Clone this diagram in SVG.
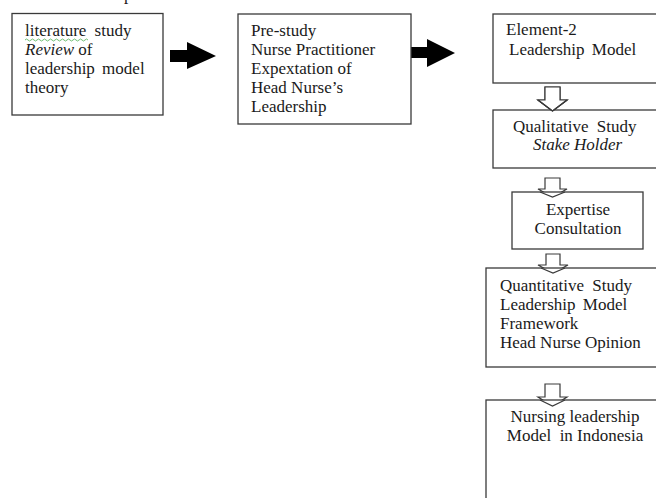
<svg xmlns="http://www.w3.org/2000/svg" width="656" height="498" viewBox="0 0 656 498">
<style>
  .box { fill: #ffffff; stroke: #3a3a3a; stroke-width: 1.3; }
  .t { font-family: "Liberation Serif", "Times New Roman", serif; font-size: 17px; fill: #1a1a1a; }
  .c { text-anchor: middle; }
  .i { font-style: italic; }
  .solid { fill: #000000; stroke: none; }
  .hollow { fill: #ffffff; stroke: #3a3a3a; stroke-width: 1.2; stroke-linejoin: miter; }
</style>
<rect x="0" y="0" width="656" height="498" fill="#ffffff"/>
<text class="t" x="124" y="0">p</text>

<g id="connectors">
  <polygon class="solid" points="170,50 187,50 187,42 216,56 187,69 187,62 170,62"/>
  <polygon class="solid" points="411,47 427,47 427,39 455,53 427,67 427,58 411,58"/>
</g>

<g id="node-literature">
  <rect class="box" x="12" y="13.5" width="151" height="101.5"/>
  <text class="t" x="25" y="36" word-spacing="4">literature study</text>
  <path d="M25,40 q1.5,-2 3,0 t3,0 t3,0 t3,0 t3,0 t3,0 t3,0 t3,0 t3,0 t3,0 t3,0 t3,0 t3,0 t3,0 t3,0 t3,0 t3,0 t3,0 t3,0 t3,0 t3,0" fill="none" stroke="#4caf50" stroke-width="0.8"/>
  <text class="t" x="25" y="55"><tspan class="i">Review</tspan> of</text>
  <text class="t" x="25" y="74" word-spacing="3">leadership model</text>
  <text class="t" x="25" y="93">theory</text>
</g>

<g id="node-prestudy">
  <rect class="box" x="238" y="14" width="173" height="110"/>
  <text class="t" x="251" y="36">Pre-study</text>
  <text class="t" x="251" y="55">Nurse Practitioner</text>
  <text class="t" x="251" y="74">Expextation of</text>
  <text class="t" x="251" y="93">Head Nurse’s</text>
  <text class="t" x="251" y="112">Leadership</text>
</g>

<g id="node-element2">
  <rect class="box" x="493" y="14" width="170" height="69"/>
  <text class="t" x="506" y="35">Element-2</text>
  <text class="t" x="509" y="55" word-spacing="3">Leadership Model</text>
</g>

<g id="arrow-1">
  <polygon class="hollow" points="545,87 560,87 560,100 567,100 552.5,111 538,100 545,100"/>
</g>

<g id="node-qualitative">
  <rect class="box" x="493" y="110" width="170" height="58"/>
  <polygon class="hollow" points="545,87 560,87 560,100 567,100 552.5,111 538,100 545,100" stroke="none"/>
  <polyline points="538,100 552.5,111 567,100" fill="none" stroke="#3a3a3a" stroke-width="1.2"/>
  <text class="t" x="513" y="132" word-spacing="4">Qualitative Study</text>
  <text class="t i" x="533" y="150">Stake Holder</text>
</g>

<g id="arrow-2">
  <polygon class="hollow" points="545,178 560,178 560,189 567,189 552.5,197 538,189 545,189"/>
</g>

<g id="node-expertise">
  <rect class="box" x="512" y="192" width="131" height="57"/>
  <polyline points="540,192 552.5,197 565,192" fill="none" stroke="#3a3a3a" stroke-width="1.2"/>
  <text class="t c" x="578" y="215">Expertise</text>
  <text class="t c" x="578" y="234">Consultation</text>
</g>

<g id="arrow-3">
  <polygon class="hollow" points="546,254 560,254 560,265 568,265 553,273 538,265 546,265"/>
</g>

<g id="node-quantitative">
  <rect class="box" x="486" y="268" width="177" height="99"/>
  <polyline points="541,268 553,273 565,268" fill="none" stroke="#3a3a3a" stroke-width="1.2"/>
  <text class="t" x="500" y="291" word-spacing="4">Quantitative Study</text>
  <text class="t" x="500" y="310" word-spacing="3">Leadership Model</text>
  <text class="t" x="500" y="329">Framework</text>
  <text class="t" x="500" y="348">Head Nurse Opinion</text>
</g>

<g id="arrow-4">
  <polygon class="hollow" points="545,384 560,384 560,397 567,397 552.5,406 538,397 545,397"/>
</g>

<g id="node-nursing">
  <rect class="box" x="486" y="400" width="177" height="104"/>
  <polyline points="540,400 552.5,406 565,400" fill="none" stroke="#3a3a3a" stroke-width="1.2"/>
  <text class="t c" x="575" y="422">Nursing leadership</text>
  <text class="t c" x="575" y="441" xml:space="preserve">Model  in Indonesia</text>
</g>
</svg>
